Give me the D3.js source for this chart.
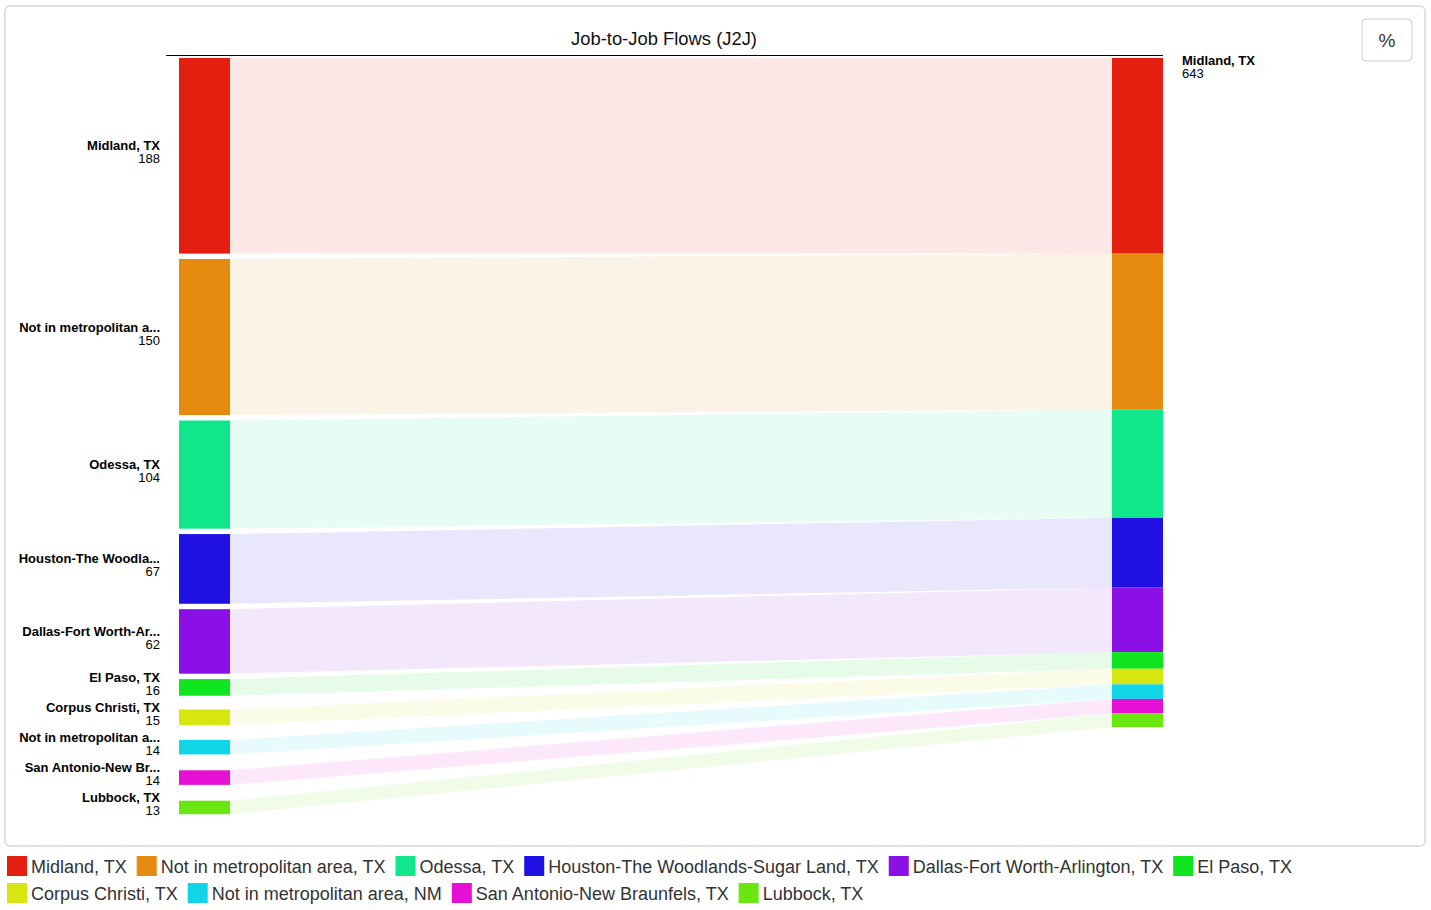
<!DOCTYPE html>
<html>
<head>
<meta charset="utf-8">
<script src="https://cdn.jsdelivr.net/npm/d3@7"></script>
<style>
  html, body { margin: 0; padding: 0; background: #fff; }
  body { width: 1431px; height: 910px; overflow: hidden; font-family: "Liberation Sans", Arial, Helvetica, sans-serif; }
</style>
</head>
<body>
<svg id="chart" width="1431" height="910"></svg>
<script>
// ---- data ----
const categories = [
  "Midland, TX",
  "Not in metropolitan area, TX",
  "Odessa, TX",
  "Houston-The Woodlands-Sugar Land, TX",
  "Dallas-Fort Worth-Arlington, TX",
  "El Paso, TX",
  "Corpus Christi, TX",
  "Not in metropolitan area, NM",
  "San Antonio-New Braunfels, TX",
  "Lubbock, TX"
];
const shortLabels = [
  "Midland, TX",
  "Not in metropolitan a...",
  "Odessa, TX",
  "Houston-The Woodla...",
  "Dallas-Fort Worth-Ar...",
  "El Paso, TX",
  "Corpus Christi, TX",
  "Not in metropolitan a...",
  "San Antonio-New Br...",
  "Lubbock, TX"
];
const flows = [188, 150, 104, 67, 62, 16, 15, 14, 14, 13];
const colors = ["#e41f10", "#e68a10", "#10e68a", "#1f10e3", "#8a10e6",
                "#10e61f", "#d5e610", "#10d5e6", "#e610d5", "#6ae610"];
const destination = "Midland, TX";
const destinationTotal = 643;
const chartTitle = "Job-to-Job Flows (J2J)";

// ---- layout ----
const svg = d3.select("#chart");
const leftX0 = 179, leftX1 = 230, rightX0 = 1112, rightX1 = 1163;
const nodeTop = 58;
const gap = 5.4, minSlot = 25;
const h = d3.scaleLinear().domain([0, destinationTotal]).range([0, 669]);
const color = d3.scaleOrdinal().domain(categories).range(colors);

// card
svg.append("rect").attr("x", 5).attr("y", 6).attr("width", 1420).attr("height", 840)
  .attr("rx", 5).attr("fill", "#fff").attr("stroke", "#d9d9d9").attr("stroke-width", 1.5);

// title
svg.append("text").attr("x", 664).attr("y", 45).attr("text-anchor", "middle")
  .attr("font-size", 18.4).attr("fill", "#111").text(chartTitle);
svg.append("line").attr("x1", 166).attr("x2", 1163).attr("y1", 55.5).attr("y2", 55.5)
  .attr("stroke", "#000").attr("stroke-width", 1.2);

// compute node positions
const nodes = [];
let yL = nodeTop, yR = nodeTop;
categories.forEach((c, i) => {
  const hh = h(flows[i]);
  nodes.push({ name: c, label: shortLabels[i], value: flows[i], ly0: yL, ly1: yL + hh, ry0: yR, ry1: yR + hh });
  yL += Math.max(hh, minSlot) + gap;
  yR += hh;
});

// links
svg.append("g").selectAll("path").data(nodes).join("path")
  .attr("d", d => `M${leftX1},${d.ly0}L${rightX0},${d.ry0}L${rightX0},${d.ry1}L${leftX1},${d.ly1}Z`)
  .attr("fill", d => color(d.name)).attr("fill-opacity", 0.1);

// left nodes
svg.append("g").selectAll("rect").data(nodes).join("rect")
  .attr("x", leftX0).attr("width", leftX1 - leftX0)
  .attr("y", d => d.ly0).attr("height", d => d.ly1 - d.ly0)
  .attr("fill", d => color(d.name));

// right stacked node
svg.append("g").selectAll("rect").data(nodes).join("rect")
  .attr("x", rightX0).attr("width", rightX1 - rightX0)
  .attr("y", d => d.ry0).attr("height", d => d.ry1 - d.ry0)
  .attr("fill", d => color(d.name));

// left labels
const lg = svg.append("g").attr("font-size", 13).attr("fill", "#000").attr("text-anchor", "end");
nodes.forEach(d => {
  const cy = (d.ly0 + d.ly1) / 2;
  lg.append("text").attr("x", 160).attr("y", cy - 5.5).attr("font-weight", "bold").text(d.label);
  lg.append("text").attr("x", 160).attr("y", cy + 7.5).text(d.value);
});

// right label
svg.append("text").attr("x", 1182).attr("y", 65).attr("font-size", 13).attr("font-weight", "bold").text(destination);
svg.append("text").attr("x", 1182).attr("y", 78).attr("font-size", 13).text(destinationTotal);

// % button
svg.append("rect").attr("x", 1362).attr("y", 19).attr("width", 50).attr("height", 42)
  .attr("rx", 4).attr("fill", "#fff").attr("stroke", "#ccc").attr("stroke-width", 1);
svg.append("text").attr("x", 1387).attr("y", 47).attr("text-anchor", "middle")
  .attr("font-size", 19).attr("fill", "#333").text("%");

// legend (flow layout)
const leg = svg.append("g");
let lx = 7, ly = 856;
const maxW = 1425;
categories.forEach((c, i) => {
  const g = leg.append("g");
  const t = g.append("text").attr("font-size", 18).attr("fill", "#333").text(c);
  const tw = t.node().getComputedTextLength();
  const itemW = 20 + 4 + tw;
  if (lx + itemW > maxW) { lx = 7; ly += 27; }
  g.attr("transform", `translate(${lx},${ly})`);
  g.insert("rect", "text").attr("x", 0).attr("y", 0).attr("width", 20).attr("height", 20).attr("fill", color(c));
  t.attr("x", 24).attr("y", 17);
  lx += itemW + 10;
});
</script>
</body>
</html>
